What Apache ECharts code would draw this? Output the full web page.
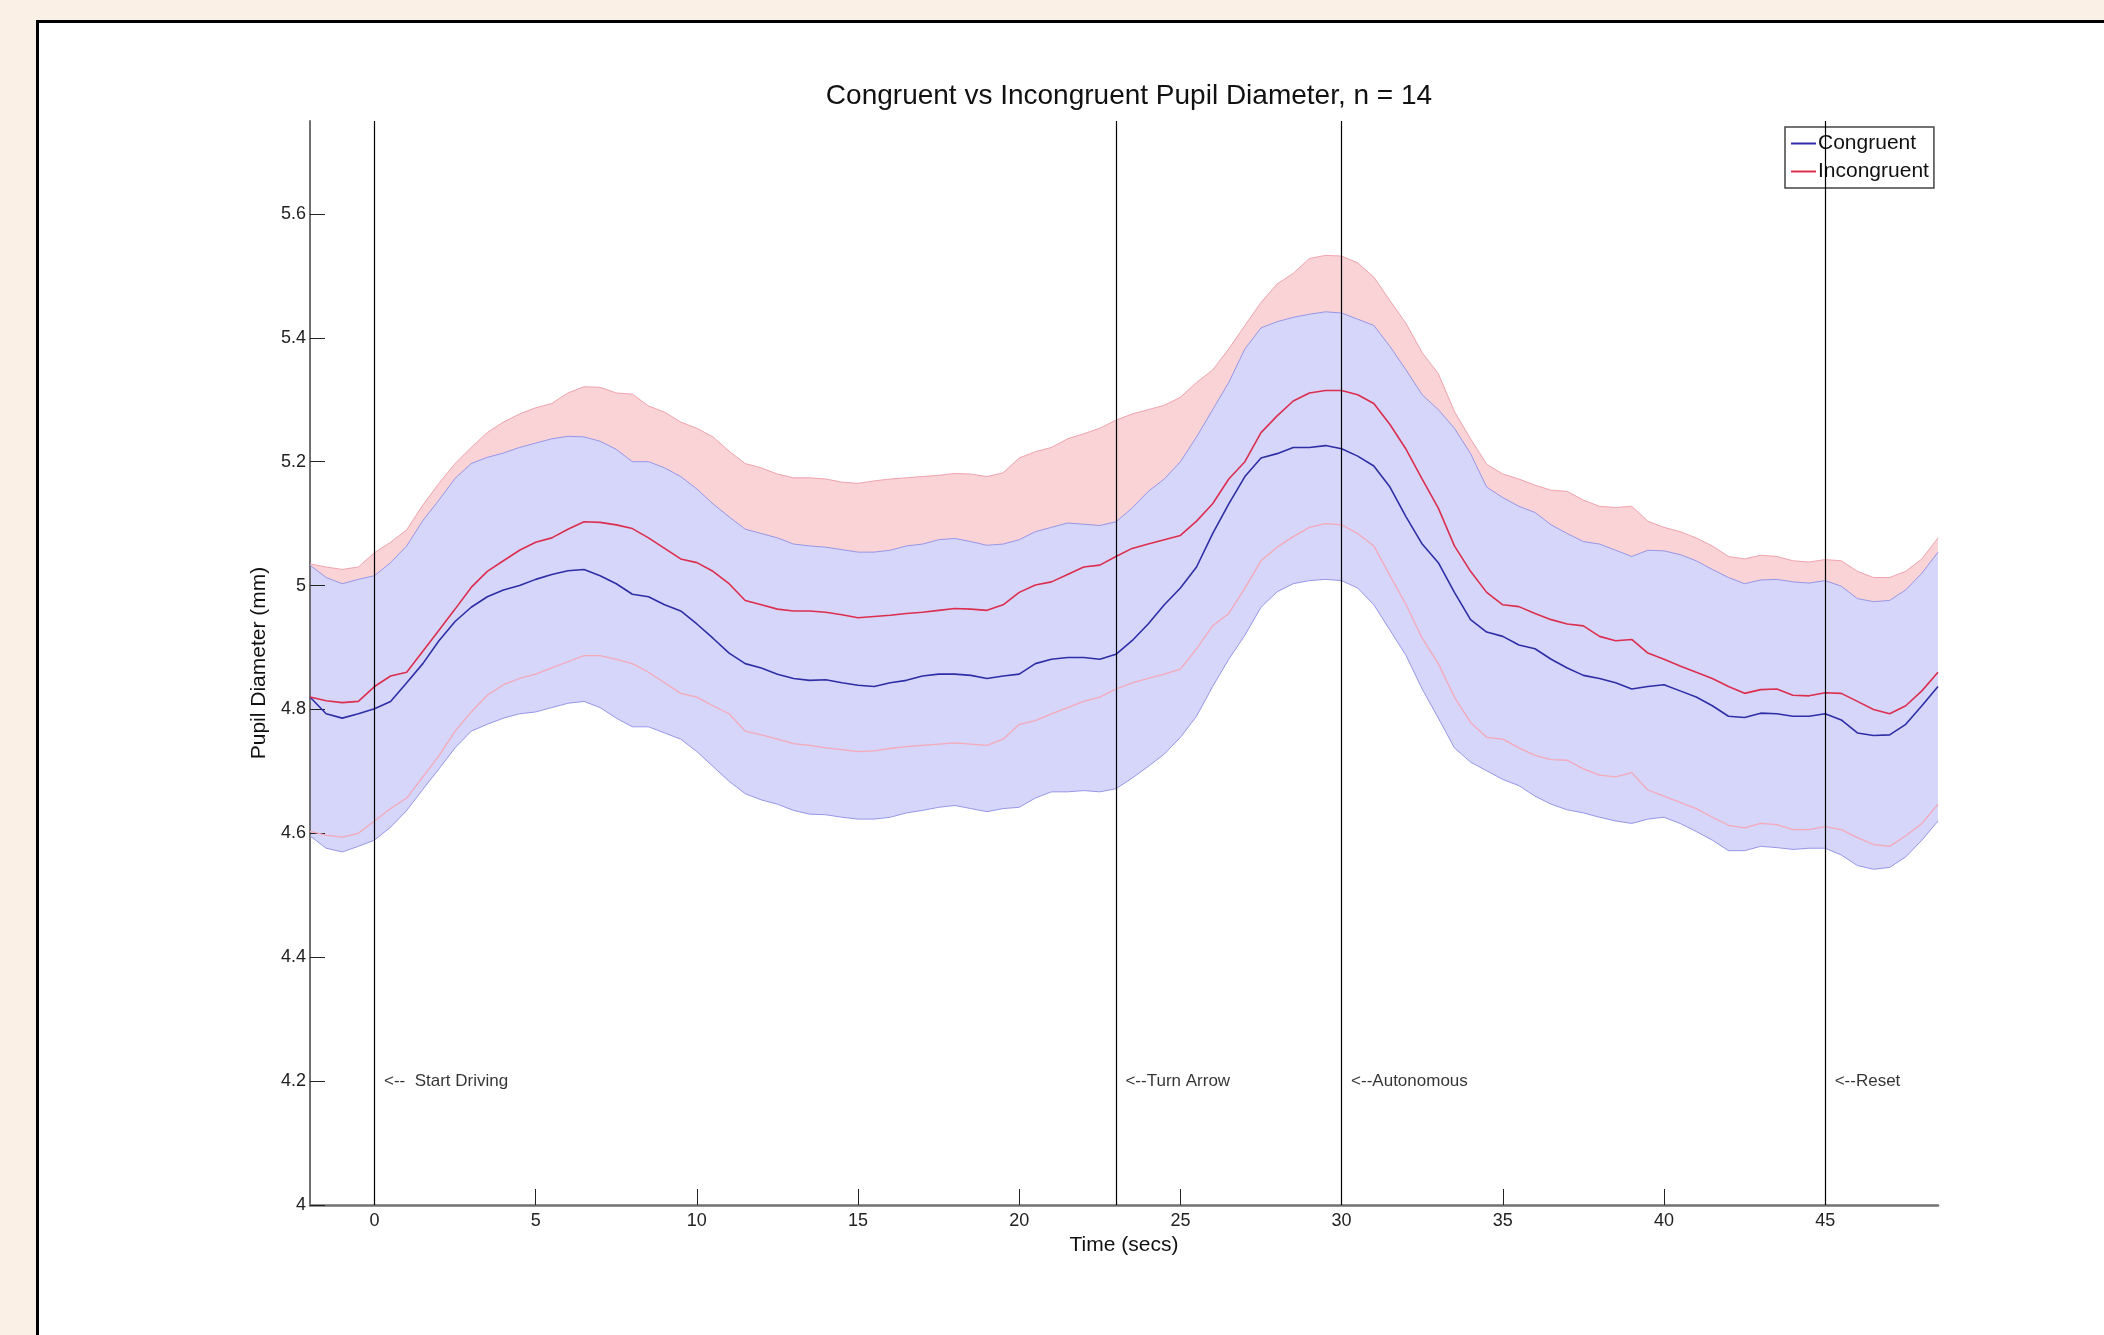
<!DOCTYPE html>
<html>
<head>
<meta charset="utf-8">
<script src="https://cdn.jsdelivr.net/npm/echarts@6/dist/echarts.min.js"></script>
<style>
html,body{margin:0;padding:0;background:#FBF0E6;}
#chart{width:2104px;height:1335px;}
</style>
</head>
<body>
<div id="chart"></div>
<script>
// Time (secs)
const times = [-2,-1.5,-1,-0.5,0,0.5,1,1.5,2,2.5,3,3.5,4,4.5,5,5.5,
  6,6.5,7,7.5,8,8.5,9,9.5,10,10.5,11,11.5,12,12.5,13,13.5,
  14,14.5,15,15.5,16,16.5,17,17.5,18,18.5,19,19.5,20,20.5,21,21.5,
  22,22.5,23,23.5,24,24.5,25,25.5,26,26.5,27,27.5,28,28.5,29,29.5,
  30,30.5,31,31.5,32,32.5,33,33.5,34,34.5,35,35.5,36,36.5,37,37.5,
  38,38.5,39,39.5,40,40.5,41,41.5,42,42.5,43,43.5,44,44.5,45,45.5,
  46,46.5,47,47.5,48,48.5];

// Incongruent upper bound
const incUpper = [5.035,5.03,5.026,5.03,5.053,5.07,5.09,5.13,5.165,5.197,5.223,5.247,5.264,5.277,5.287,5.294,
  5.311,5.321,5.32,5.311,5.309,5.29,5.28,5.264,5.254,5.24,5.217,5.197,5.19,5.18,5.174,5.174,
  5.172,5.167,5.165,5.169,5.172,5.174,5.176,5.178,5.181,5.18,5.176,5.182,5.206,5.216,5.223,5.237,
  5.245,5.254,5.267,5.277,5.284,5.291,5.304,5.328,5.348,5.382,5.42,5.457,5.487,5.504,5.528,5.533,
  5.532,5.521,5.498,5.46,5.423,5.376,5.342,5.281,5.237,5.196,5.18,5.172,5.162,5.154,5.152,5.138,
  5.128,5.126,5.128,5.104,5.094,5.087,5.077,5.064,5.047,5.043,5.049,5.047,5.04,5.038,5.042,5.04,
  5.023,5.013,5.013,5.023,5.043,5.077];

// Congruent upper bound
const congUpper = [5.033,5.013,5.003,5.01,5.016,5.037,5.064,5.105,5.138,5.173,5.197,5.207,5.214,5.223,5.23,5.237,
  5.241,5.24,5.233,5.22,5.2,5.2,5.19,5.176,5.156,5.132,5.111,5.091,5.084,5.077,5.067,5.064,
  5.062,5.058,5.054,5.054,5.057,5.064,5.067,5.074,5.076,5.071,5.065,5.067,5.074,5.087,5.094,5.101,
  5.099,5.097,5.103,5.125,5.152,5.172,5.2,5.24,5.284,5.328,5.382,5.416,5.426,5.433,5.438,5.442,
  5.44,5.43,5.42,5.386,5.348,5.308,5.284,5.254,5.213,5.159,5.142,5.128,5.118,5.098,5.084,5.071,
  5.067,5.057,5.047,5.057,5.056,5.05,5.04,5.026,5.013,5.003,5.009,5.01,5.006,5.004,5.008,4.999,
  4.979,4.974,4.976,4.993,5.02,5.054];

// Incongruent mean
const incMean = [4.82,4.814,4.811,4.813,4.837,4.854,4.86,4.894,4.928,4.962,4.997,5.023,5.04,5.057,5.07,5.077,
  5.091,5.103,5.102,5.098,5.092,5.077,5.06,5.043,5.037,5.023,5.003,4.976,4.969,4.962,4.959,4.959,
  4.957,4.953,4.948,4.95,4.952,4.955,4.957,4.96,4.963,4.962,4.96,4.969,4.989,5.001,5.006,5.018,
  5.03,5.033,5.047,5.06,5.067,5.074,5.081,5.104,5.132,5.172,5.2,5.247,5.274,5.298,5.311,5.315,
  5.315,5.308,5.294,5.26,5.22,5.172,5.125,5.064,5.023,4.989,4.969,4.966,4.955,4.945,4.938,4.935,
  4.918,4.911,4.913,4.891,4.881,4.87,4.86,4.85,4.837,4.826,4.832,4.833,4.823,4.822,4.827,4.826,
  4.813,4.8,4.793,4.806,4.83,4.86];

// Congruent mean
const congMean = [4.82,4.793,4.786,4.793,4.801,4.813,4.843,4.874,4.911,4.942,4.965,4.982,4.993,5.0,5.01,5.018,
  5.024,5.026,5.016,5.003,4.986,4.982,4.969,4.959,4.938,4.915,4.891,4.874,4.867,4.857,4.85,4.847,
  4.848,4.843,4.839,4.837,4.843,4.847,4.854,4.857,4.857,4.855,4.85,4.854,4.857,4.874,4.881,4.884,
  4.884,4.881,4.889,4.911,4.938,4.969,4.996,5.03,5.084,5.132,5.176,5.206,5.213,5.223,5.223,5.226,
  5.221,5.209,5.193,5.159,5.111,5.067,5.037,4.989,4.945,4.925,4.918,4.904,4.898,4.881,4.867,4.855,
  4.85,4.843,4.833,4.837,4.84,4.83,4.82,4.806,4.789,4.787,4.794,4.793,4.789,4.789,4.793,4.783,
  4.762,4.758,4.759,4.776,4.806,4.837];

// Incongruent lower bound
const incLower = [4.603,4.597,4.594,4.6,4.62,4.64,4.657,4.691,4.725,4.765,4.796,4.823,4.84,4.85,4.857,4.867,
  4.877,4.887,4.887,4.881,4.874,4.86,4.843,4.826,4.82,4.806,4.793,4.765,4.759,4.752,4.745,4.742,
  4.738,4.735,4.732,4.733,4.737,4.74,4.742,4.744,4.746,4.744,4.742,4.752,4.776,4.782,4.793,4.803,
  4.813,4.82,4.833,4.843,4.85,4.857,4.865,4.898,4.935,4.955,4.996,5.04,5.062,5.079,5.094,5.1,
  5.098,5.084,5.064,5.016,4.969,4.915,4.874,4.82,4.779,4.755,4.752,4.738,4.726,4.719,4.718,4.704,
  4.694,4.691,4.698,4.67,4.66,4.65,4.64,4.626,4.613,4.609,4.616,4.614,4.606,4.606,4.611,4.606,
  4.593,4.582,4.579,4.596,4.616,4.647];

// Congruent lower bound
const congLower = [4.596,4.576,4.57,4.579,4.589,4.61,4.637,4.671,4.704,4.738,4.765,4.776,4.786,4.793,4.796,4.803,
  4.81,4.813,4.803,4.786,4.772,4.772,4.762,4.752,4.732,4.708,4.684,4.664,4.654,4.647,4.637,4.631,
  4.63,4.626,4.623,4.623,4.626,4.633,4.637,4.642,4.645,4.64,4.635,4.64,4.642,4.657,4.667,4.667,
  4.669,4.667,4.672,4.689,4.708,4.728,4.755,4.789,4.837,4.881,4.92,4.965,4.99,5.003,5.008,5.01,
  5.008,4.996,4.969,4.928,4.887,4.833,4.786,4.738,4.715,4.701,4.687,4.677,4.66,4.647,4.638,4.633,
  4.626,4.62,4.616,4.623,4.626,4.616,4.603,4.589,4.572,4.572,4.579,4.577,4.574,4.576,4.576,4.565,
  4.548,4.542,4.545,4.562,4.589,4.62];

// Event markers
const eventTimes = [0, 23, 30, 45];
const eventLabels = ['<--  Start Driving', '<--Turn Arrow', '<--Autonomous', '<--Reset'];
const eventLabelY = 4.2;

// Ticks
const xTicks = [0,5,10,15,20,25,30,35,40,45];
const yTicks = [4,4.2,4.4,4.6,4.8,5,5.2,5.4,5.6];

const FONT = "'Liberation Sans', Arial, Helvetica, sans-serif";
const pinkFill = '#F9D3D6';
const blueFill = '#D6D6FA';
const pinkEdge = '#F0A3AE';
const blueEdge = '#9696E8';
const pinkLowerColor = '#F4A8B8';
const redMean = '#DC2E4E';
const blueMean = '#2E2EA6';

const pts = a => times.map((t, i) => [t, a[i]]);

const chart = echarts.init(document.getElementById('chart'), null, {renderer: 'canvas'});

const hiddenLine = {opacity: 0, width: 0};
const fillSeries = (name, arr, color) => ({
  type: 'line', name, data: pts(arr), symbol: 'none', silent: true,
  lineStyle: hiddenLine, areaStyle: {color, opacity: 1, origin: 'start'}, z: -1
});

chart.setOption({
  animation: false,
  backgroundColor: 'transparent',
  graphic: [{
    type: 'rect', left: 36, top: 20, z: -10, silent: true,
    shape: {width: 2200, height: 1400},
    style: {fill: '#ffffff', stroke: '#000000', lineWidth: 3}
  }],
  title: {
    text: 'Congruent vs Incongruent Pupil Diameter, n = 14',
    left: 1124, top: 77, textAlign: 'center',
    textStyle: {fontFamily: FONT, fontSize: 28, fontWeight: 'normal', color: '#111'}
  },
  legend: {
    data: ['Congruent', 'Incongruent'],
    orient: 'vertical', left: 1785, top: 127,
    backgroundColor: '#fff', borderColor: '#444', borderWidth: 1.5,
    padding: [4, 5, 4, 6], itemGap: 3,
    icon: 'rect', itemWidth: 25, itemHeight: 2,
    textStyle: {fontFamily: FONT, fontSize: 21, color: '#111', padding: [0, 0, 0, -3], lineHeight: 25}
  },
  grid: {left: 310, top: 121, right: 166, bottom: 130, containLabel: false},
  xAxis: {
    type: 'value', min: -2, max: 48.5,
    name: 'Time (secs)', nameLocation: 'middle', nameGap: 25,
    nameTextStyle: {fontFamily: FONT, fontSize: 21, color: '#111'},
    axisLine: {show: true, onZero: false, lineStyle: {color: '#707070', width: 2.5}},
    axisTick: {show: true, inside: true, length: 16, customValues: xTicks, lineStyle: {color: '#222', width: 1}},
    axisLabel: {customValues: xTicks, fontFamily: FONT, fontSize: 18, color: '#222', margin: 7},
    splitLine: {show: false}
  },
  yAxis: {
    type: 'value', min: 4, max: 5.75,
    name: 'Pupil Diameter (mm)', nameLocation: 'middle', nameGap: 32,
    nameTextStyle: {fontFamily: FONT, fontSize: 21, color: '#111'},
    axisLine: {show: true, onZero: false, lineStyle: {color: '#707070', width: 2}},
    axisTick: {show: true, inside: true, length: 15, customValues: yTicks, lineStyle: {color: '#222', width: 1}},
    axisLabel: {customValues: yTicks, fontFamily: FONT, fontSize: 18, color: '#222', margin: 4},
    splitLine: {show: false}
  },
  series: [
    fillSeries('incFill', incUpper, pinkFill),
    fillSeries('congFill', congUpper, blueFill),
    fillSeries('belowFill', congLower, '#ffffff'),
    {type: 'line', name: 'incUpperEdge', data: pts(incUpper), symbol: 'none', silent: true, lineStyle: {color: pinkEdge, width: 1}, z: 3},
    {type: 'line', name: 'congUpperEdge', data: pts(congUpper), symbol: 'none', silent: true, lineStyle: {color: blueEdge, width: 1}, z: 3},
    {type: 'line', name: 'congLowerEdge', data: pts(congLower), symbol: 'none', silent: true, lineStyle: {color: blueEdge, width: 1}, z: 3},
    {type: 'line', name: 'incLowerEdge', data: pts(incLower), symbol: 'none', silent: true, lineStyle: {color: pinkLowerColor, width: 1.3}, z: 3},
    {type: 'line', name: 'Congruent', data: pts(congMean), symbol: 'none', silent: true,
      itemStyle: {color: blueMean}, lineStyle: {color: blueMean, width: 1.6}, z: 4,
      markLine: {
        silent: true, symbol: ['none', 'none'], label: {show: false},
        lineStyle: {color: '#000', width: 1.2, type: 'solid'},
        data: eventTimes.map(t => ({xAxis: t}))
      }
    },
    {type: 'line', name: 'Incongruent', data: pts(incMean), symbol: 'none', silent: true,
      itemStyle: {color: redMean}, lineStyle: {color: redMean, width: 1.6}, z: 4},
    {type: 'scatter', name: 'events', silent: true, symbolSize: 1,
      itemStyle: {color: 'transparent'},
      data: eventTimes.map(t => [t, eventLabelY]),
      label: {
        show: true, position: 'right', distance: 9,
        fontFamily: FONT, fontSize: 17, color: '#000',
        formatter: p => eventLabels[p.dataIndex]
      }, z: 5}
  ]
});
</script>
</body>
</html>
